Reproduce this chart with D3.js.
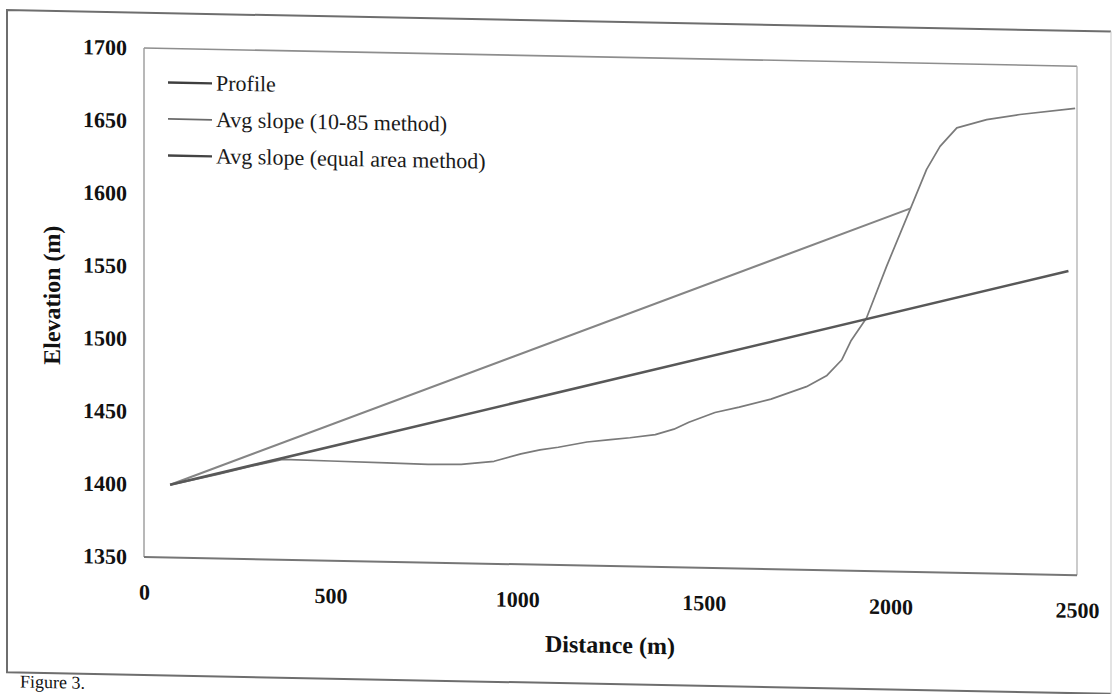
<!DOCTYPE html>
<html><head><meta charset="utf-8">
<script src="https://cdn.jsdelivr.net/npm/d3@7"></script>
<style>body{margin:0;background:#fff}</style></head>
<body><svg id="c" width="1115" height="694"></svg>
<script>
// ---- data ----
const xTicks = [0, 500, 1000, 1500, 2000, 2500];
const yTicks = [1350, 1400, 1450, 1500, 1550, 1600, 1650, 1700];
const profileDist = [70, 200, 290, 372, 500, 650, 761, 850, 938, 1010, 1061, 1110, 1187, 1250, 1302, 1370, 1420, 1460, 1530, 1595, 1680, 1775, 1830, 1870, 1894, 1936, 1990, 2054, 2097, 2133, 2178, 2258, 2347, 2495];
const profileElev = [1400, 1408, 1414, 1419, 1418.5, 1418, 1417.5, 1418, 1420.5, 1426, 1429, 1431, 1435, 1437, 1438.5, 1441, 1445, 1450, 1457, 1461, 1467, 1476, 1484, 1495, 1508, 1524, 1560, 1600, 1627, 1643, 1656, 1662, 1666, 1671];
const slope1085Dist = [70, 2054];
const slope1085Elev = [1400, 1600];
const slopeEqDist = [70, 2477];
const slopeEqElev = [1400, 1559];
const seriesNames = ["Profile", "Avg slope (10-85 method)", "Avg slope (equal area method)"];
const captionText = "Figure 3.";

// ---- layout ----
const svg = d3.select("#c");
const L = 144, R = 1077, T = 48, B = 557;
const skew = 0.0195;
const root = svg.append("g").attr("transform", `matrix(1,${skew},0,1,0,${-skew * L})`);

const x = d3.scaleLinear().domain([0, 2500]).range([L, R]);
const y = d3.scaleLinear().domain([1350, 1700]).range([B, T]);
const serif = "'Liberation Serif','Times New Roman',serif";

// outer figure frame (right side faint, as in the scan)
root.append("path").attr("d", "M1111,12.7 H7 V675 H1111")
  .attr("fill", "none").attr("stroke", "#6e6e6e").attr("stroke-width", 2);
root.append("line").attr("x1", 1111).attr("x2", 1111).attr("y1", 12.7).attr("y2", 675)
  .attr("stroke", "#d0d0d0").attr("stroke-width", 1.2);

// caption
root.append("text").attr("x", 20).attr("y", 690).attr("font-family", serif)
  .attr("font-size", 18).attr("fill", "#111").text(captionText);

// plot frame
root.append("line").attr("x1", L).attr("x2", R).attr("y1", T).attr("y2", T)
  .attr("stroke", "#8e8e8e").attr("stroke-width", 1.6);
root.append("line").attr("x1", R).attr("x2", R).attr("y1", T).attr("y2", B)
  .attr("stroke", "#b0b0b0").attr("stroke-width", 1.3);
root.append("line").attr("x1", L).attr("x2", L).attr("y1", T).attr("y2", B)
  .attr("stroke", "#9a9a9a").attr("stroke-width", 1.4);
root.append("line").attr("x1", L).attr("x2", R).attr("y1", B).attr("y2", B)
  .attr("stroke", "#767676").attr("stroke-width", 2);

// axes
const yAxis = root.append("g").attr("transform", `translate(130,0)`)
  .call(d3.axisLeft(y).tickValues(yTicks).tickSize(0).tickFormat(d3.format("d")));
yAxis.select(".domain").remove();
yAxis.selectAll("text").attr("font-family", serif).attr("font-weight", "bold")
  .attr("font-size", 22).attr("fill", "#111");

const xAxis = root.append("g").attr("transform", `translate(0,${B + 24})`)
  .call(d3.axisBottom(x).tickValues(xTicks).tickSize(0).tickFormat(d3.format("d")));
xAxis.select(".domain").remove();
xAxis.selectAll("text").attr("font-family", serif).attr("font-weight", "bold")
  .attr("font-size", 22).attr("fill", "#111");

root.append("text").attr("x", 610).attr("y", B + 87).attr("text-anchor", "middle")
  .attr("font-family", serif).attr("font-weight", "bold").attr("font-size", 24).attr("fill", "#111")
  .text("Distance (m)");
root.append("text").attr("transform", `translate(60,297) rotate(-90)`)
  .attr("text-anchor", "middle").attr("font-family", serif).attr("font-weight", "bold")
  .attr("font-size", 24).attr("fill", "#111").text("Elevation (m)");

// series
const line = d3.line().x(d => x(d[0])).y(d => y(d[1]));
const series = [
  { name: seriesNames[0], pts: d3.zip(profileDist, profileElev), color: "#7a7a7a", w: 1.7, lc: "#3e3e3e", lw: 2.4 },
  { name: seriesNames[1], pts: d3.zip(slope1085Dist, slope1085Elev), color: "#858585", w: 2.1, lc: "#6a6a6a", lw: 1.8 },
  { name: seriesNames[2], pts: d3.zip(slopeEqDist, slopeEqElev), color: "#585858", w: 2.5, lc: "#444", lw: 2.4 }
];
root.append("g").selectAll("path").data(series).join("path")
  .attr("d", d => line(d.pts)).attr("fill", "none")
  .attr("stroke", d => d.color).attr("stroke-width", d => d.w).attr("stroke-linejoin", "round");

// legend
const lg = root.append("g").attr("transform", `translate(168,82)`);
series.forEach((s, i) => {
  const g = lg.append("g").attr("transform", `translate(0,${i * 36.5})`);
  g.append("line").attr("x1", 0).attr("x2", 44).attr("y1", 0).attr("y2", 0)
    .attr("stroke", s.lc).attr("stroke-width", s.lw);
  g.append("text").attr("x", 48).attr("y", 7).attr("font-family", serif)
    .attr("font-size", 22).attr("fill", "#1a1a1a").text(s.name);
});
</script>
</body></html>
